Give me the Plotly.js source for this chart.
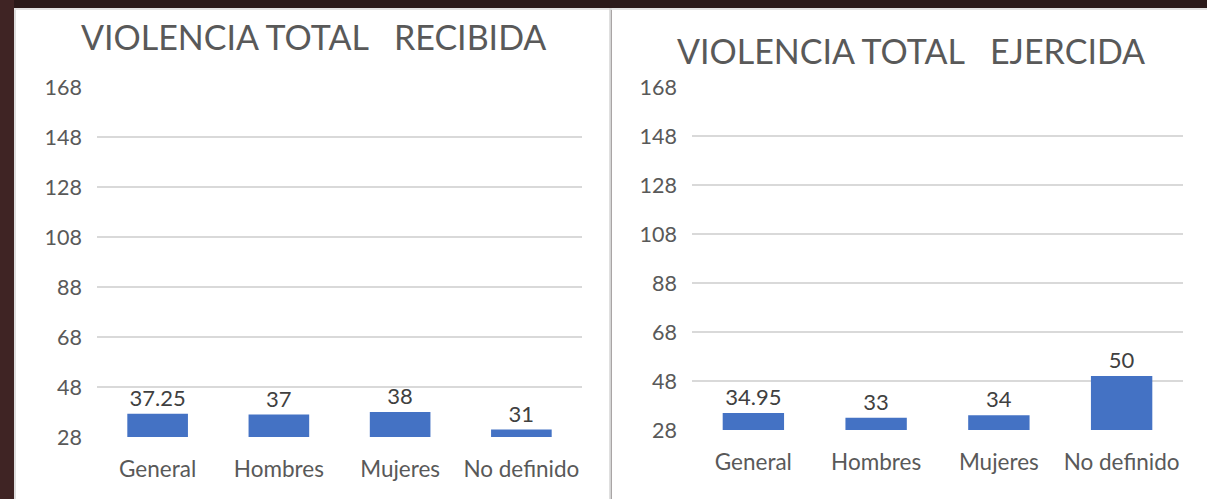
<!DOCTYPE html>
<html>
<head>
<meta charset="utf-8">
<script src="https://cdn.plot.ly/plotly-3.0.1.min.js"></script>
<style>html,body{margin:0;padding:0;background:#2b1a1a;}#chart{width:1207px;height:499px;}</style>
</head>
<body>
<div id="chart"></div>
<script>
// ---- data ----
const categories = ["General", "Hombres", "Mujeres", "No definido"];
const recibida = [37.25, 37, 38, 31];
const ejercida = [34.95, 33, 34, 50];
const recibidaLabels = ["37.25", "37", "38", "31"];
const ejercidaLabels = ["34.95", "33", "34", "50"];
const tickVals = [28, 48, 68, 88, 108, 128, 148, 168];
const titleRecibida = "VIOLENCIA TOTAL\u00a0\u00a0\u00a0RECIBIDA";
const titleEjercida = "VIOLENCIA TOTAL\u00a0\u00a0\u00a0EJERCIDA";

// ---- layout helpers ----
const W = 1207, H = 499;
const px = v => v / W;
const py = v => 1 - v / H;

const FONT = "Lato, 'Open Sans', sans-serif";
const GRAY = "#595959";
const BLUE = "#4472C4";

const traces = [
  {type: "bar", x: categories, y: recibida, text: recibidaLabels, textposition: "outside",
   textfont: {family: FONT, size: 22, color: "#404040"}, marker: {color: BLUE},
   xaxis: "x", yaxis: "y", hoverinfo: "x+y", cliponaxis: false},
  {type: "bar", x: categories, y: ejercida, text: ejercidaLabels, textposition: "outside",
   textfont: {family: FONT, size: 22, color: "#404040"}, marker: {color: BLUE},
   xaxis: "x2", yaxis: "y2", hoverinfo: "x+y", cliponaxis: false}
];

function yax(domain, anchor) {
  return {domain: domain, anchor: anchor, range: [28, 168], tickmode: "array", tickvals: tickVals,
    showgrid: true, gridcolor: "#d9d9d9", gridwidth: 1.5, zeroline: false, showline: false,
    ticks: "", ticklabelstandoff: 14, fixedrange: true,
    tickfont: {family: FONT, size: 21.5, color: GRAY}};
}
function xax(domain, anchor) {
  return {domain: domain, anchor: anchor, showgrid: false, zeroline: false, showline: false,
    ticks: "", ticklabelstandoff: 16, fixedrange: true,
    tickfont: {family: FONT, size: 22.5, color: GRAY}};
}

const layout = {
  width: W, height: H,
  margin: {l: 0, r: 0, t: 0, b: 0},
  paper_bgcolor: "#2b1a1a",
  plot_bgcolor: "rgba(0,0,0,0)",
  showlegend: false,
  bargap: 0.5,
  xaxis: xax([px(97), px(582)], "y"),
  yaxis: yax([py(437), py(87)], "x"),
  xaxis2: xax([px(692), px(1183)], "y2"),
  yaxis2: yax([py(430), py(87)], "x2"),
  shapes: [
    // left dark strip
    {type: "rect", xref: "paper", yref: "paper", x0: 0, x1: px(14), y0: 0, y1: 1, line: {width: 0}, fillcolor: "#3f2424", layer: "below"},
    // panels
    {type: "rect", xref: "paper", yref: "paper", x0: px(14), x1: px(610), y0: 0, y1: py(8), line: {width: 0}, fillcolor: "#ffffff", layer: "below"},
    {type: "rect", xref: "paper", yref: "paper", x0: px(612), x1: 1, y0: 0, y1: py(8), line: {width: 0}, fillcolor: "#ffffff", layer: "below"},
    // borders
    {type: "line", xref: "paper", yref: "paper", x0: px(15), x1: px(15), y0: 0, y1: py(8), line: {width: 2, color: "#dedede"}, layer: "below"},
    {type: "line", xref: "paper", yref: "paper", x0: px(14), x1: 1, y0: py(9), y1: py(9), line: {width: 2, color: "#e2e2e2"}, layer: "below"},
    {type: "line", xref: "paper", yref: "paper", x0: px(610.5), x1: px(610.5), y0: 0, y1: py(8), line: {width: 2.5, color: "#d4d4d4"}, layer: "below"}
  ],
  annotations: [
    {text: titleRecibida, xref: "paper", yref: "paper", x: px(313.5), y: py(37), xanchor: "center", yanchor: "middle",
     showarrow: false, font: {family: FONT, size: 34, color: GRAY}},
    {text: titleEjercida, xref: "paper", yref: "paper", x: px(911), y: py(51), xanchor: "center", yanchor: "middle",
     showarrow: false, font: {family: FONT, size: 34, color: GRAY}}
  ]
};

Plotly.newPlot("chart", traces, layout, {staticPlot: true, displayModeBar: false});
</script>
</body>
</html>
